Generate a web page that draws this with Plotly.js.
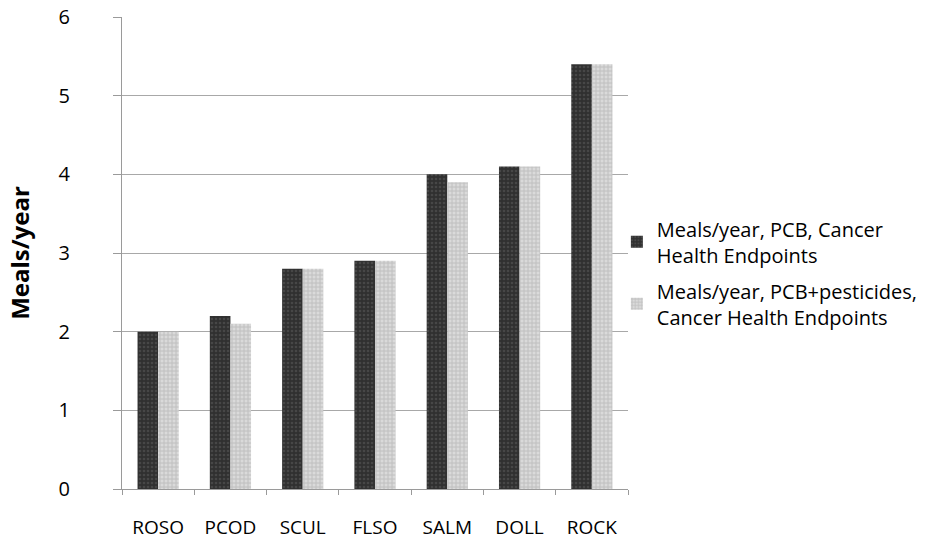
<!DOCTYPE html>
<html>
<head>
<meta charset="utf-8">
<script src="https://cdn.plot.ly/plotly-3.0.1.min.js"></script>
<style>html,body{margin:0;padding:0;background:#fff;}#chart{width:942px;height:541px;}</style>
</head>
<body>
<div id="chart"></div>
<script>
const categories = ["ROSO", "PCOD", "SCUL", "FLSO", "SALM", "DOLL", "ROCK"];
const pcbCancer = [2.0, 2.2, 2.8, 2.9, 4.0, 4.1, 5.4];
const pcbPesticidesCancer = [2.0, 2.1, 2.8, 2.9, 3.9, 4.1, 5.4];
const seriesNames = ["Meals/year, PCB, Cancer<br>Health Endpoints", "Meals/year, PCB+pesticides,<br>Cancer Health Endpoints"];

const font = "Open Sans, Liberation Sans, sans-serif";
const traces = [
  {
    type: "bar", x: categories, y: pcbCancer, name: seriesNames[0], legendgroup: "a",
    marker: {color: "#363636", line: {width: 0},
      pattern: {shape: ".", bgcolor: "#303030", fgcolor: "#5e5e5e", size: 4, solidity: 0.35, fillmode: "overlay"}}
  },
  {
    type: "bar", x: categories, y: pcbPesticidesCancer, name: seriesNames[1], legendgroup: "b",
    marker: {color: "#cfcfcf", line: {width: 0},
      pattern: {shape: "+", bgcolor: "#dadada", fgcolor: "#a0a0a0", size: 4, solidity: 0.4, fillmode: "overlay"}}
  }
];

const layout = {
  width: 942, height: 541,
  margin: {l: 122, r: 314, t: 17, b: 52},
  paper_bgcolor: "#fff", plot_bgcolor: "#fff",
  barmode: "group", bargap: 0.43, bargroupgap: 0,
  font: {family: font, color: "#000"},
  showlegend: true,
  legend: {x: 0.978, xanchor: "left", y: 0.458, yanchor: "middle",
    font: {family: font, size: 20, color: "#000"}, tracegroupgap: 7, itemwidth: 30,
    bgcolor: "rgba(0,0,0,0)"},
  xaxis: {
    type: "category", showline: true, linecolor: "#9a9a9a", linewidth: 1,
    ticks: "outside", tickson: "boundaries", ticklen: 5, tickcolor: "#9a9a9a",
    tickfont: {family: font, size: 19, color: "#000"}, ticklabelstandoff: 21,
    showgrid: false, zeroline: false
  },
  yaxis: {
    range: [0, 6], dtick: 1, showline: true, linecolor: "#9a9a9a", linewidth: 1,
    ticks: "outside", ticklen: 8, tickcolor: "#9a9a9a",
    tickfont: {family: font, size: 20, color: "#000"}, ticklabelstandoff: 39,
    showgrid: true, gridcolor: "#a8a8a8", gridwidth: 1, zeroline: false,
    title: {text: "<b>Meals/year</b>", font: {family: font, size: 24, color: "#000"}, standoff: 22}
  }
};

Plotly.newPlot("chart", traces, layout, {displayModeBar: false, staticPlot: true});
</script>
</body>
</html>
